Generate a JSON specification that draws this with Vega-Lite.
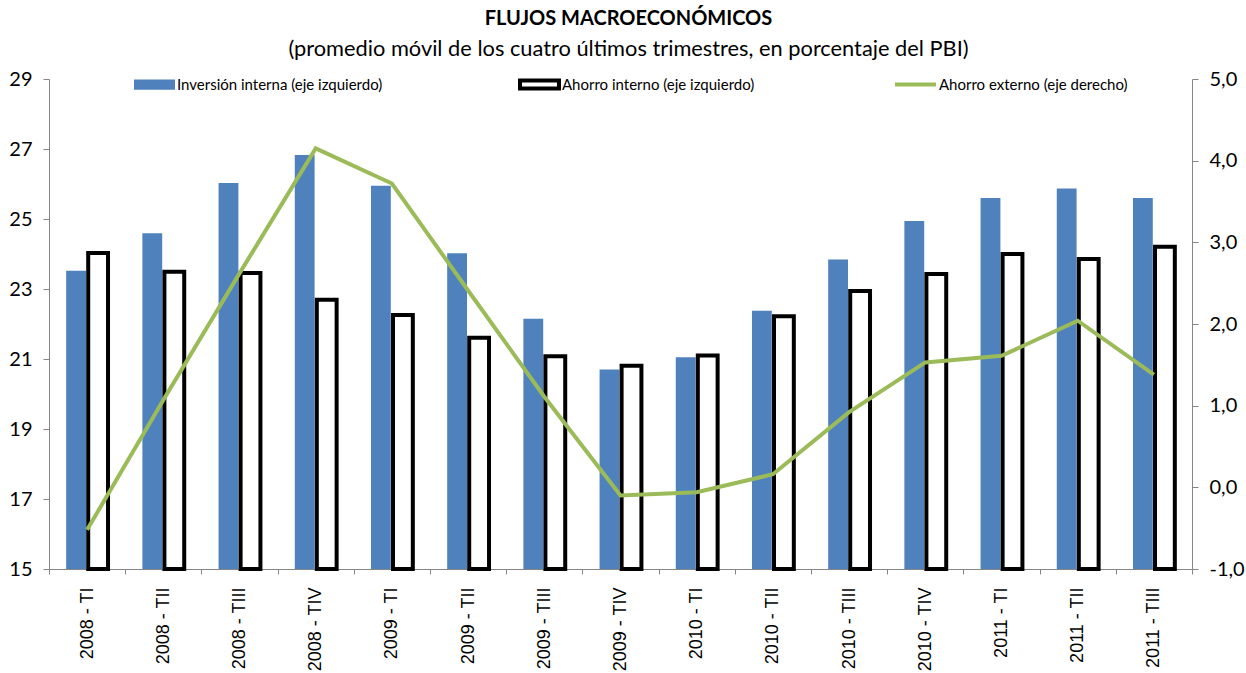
{
  "$schema": "https://vega.github.io/schema/vega-lite/v6.json",
  "autosize": {"type": "none"},
  "width": 1143,
  "height": 490,
  "padding": {"left": 49, "top": 79, "right": 54, "bottom": 104},
  "background": "white",
  "title": {
    "text": "FLUJOS MACROECONÓMICOS",
    "subtitle": "(promedio móvil de los cuatro últimos trimestres, en porcentaje del PBI)",
    "anchor": "middle",
    "font": "Lato",
    "fontSize": 20,
    "fontWeight": "bold",
    "color": "black",
    "subtitleFont": "Lato",
    "subtitleFontSize": 21.8,
    "subtitleColor": "black",
    "subtitlePadding": 10,
    "offset": 1,
    "dx": 8
  },
  "data": {
    "values": [
      {"trimestre": "2008 - TI", "serie": "Inversión interna (eje izquierdo)", "valor": 23.52},
      {"trimestre": "2008 - TII", "serie": "Inversión interna (eje izquierdo)", "valor": 24.59},
      {"trimestre": "2008 - TIII", "serie": "Inversión interna (eje izquierdo)", "valor": 26.03},
      {"trimestre": "2008 - TIV", "serie": "Inversión interna (eje izquierdo)", "valor": 26.83},
      {"trimestre": "2009 - TI", "serie": "Inversión interna (eje izquierdo)", "valor": 25.95},
      {"trimestre": "2009 - TII", "serie": "Inversión interna (eje izquierdo)", "valor": 24.02},
      {"trimestre": "2009 - TIII", "serie": "Inversión interna (eje izquierdo)", "valor": 22.15},
      {"trimestre": "2009 - TIV", "serie": "Inversión interna (eje izquierdo)", "valor": 20.70},
      {"trimestre": "2010 - TI", "serie": "Inversión interna (eje izquierdo)", "valor": 21.05},
      {"trimestre": "2010 - TII", "serie": "Inversión interna (eje izquierdo)", "valor": 22.38},
      {"trimestre": "2010 - TIII", "serie": "Inversión interna (eje izquierdo)", "valor": 23.84},
      {"trimestre": "2010 - TIV", "serie": "Inversión interna (eje izquierdo)", "valor": 24.94},
      {"trimestre": "2011 - TI", "serie": "Inversión interna (eje izquierdo)", "valor": 25.60},
      {"trimestre": "2011 - TII", "serie": "Inversión interna (eje izquierdo)", "valor": 25.87},
      {"trimestre": "2011 - TIII", "serie": "Inversión interna (eje izquierdo)", "valor": 25.60},
      {"trimestre": "2008 - TI", "serie": "Ahorro interno (eje izquierdo)", "valor": 24.03},
      {"trimestre": "2008 - TII", "serie": "Ahorro interno (eje izquierdo)", "valor": 23.49},
      {"trimestre": "2008 - TIII", "serie": "Ahorro interno (eje izquierdo)", "valor": 23.46},
      {"trimestre": "2008 - TIV", "serie": "Ahorro interno (eje izquierdo)", "valor": 22.69},
      {"trimestre": "2009 - TI", "serie": "Ahorro interno (eje izquierdo)", "valor": 22.26},
      {"trimestre": "2009 - TII", "serie": "Ahorro interno (eje izquierdo)", "valor": 21.61},
      {"trimestre": "2009 - TIII", "serie": "Ahorro interno (eje izquierdo)", "valor": 21.08},
      {"trimestre": "2009 - TIV", "serie": "Ahorro interno (eje izquierdo)", "valor": 20.81},
      {"trimestre": "2010 - TI", "serie": "Ahorro interno (eje izquierdo)", "valor": 21.10},
      {"trimestre": "2010 - TII", "serie": "Ahorro interno (eje izquierdo)", "valor": 22.22},
      {"trimestre": "2010 - TIII", "serie": "Ahorro interno (eje izquierdo)", "valor": 22.94},
      {"trimestre": "2010 - TIV", "serie": "Ahorro interno (eje izquierdo)", "valor": 23.43},
      {"trimestre": "2011 - TI", "serie": "Ahorro interno (eje izquierdo)", "valor": 24.00},
      {"trimestre": "2011 - TII", "serie": "Ahorro interno (eje izquierdo)", "valor": 23.86},
      {"trimestre": "2011 - TIII", "serie": "Ahorro interno (eje izquierdo)", "valor": 24.21},
      {"trimestre": "2008 - TI", "serie": "Ahorro externo (eje derecho)", "valor": -0.52},
      {"trimestre": "2008 - TII", "serie": "Ahorro externo (eje derecho)", "valor": 1.07},
      {"trimestre": "2008 - TIII", "serie": "Ahorro externo (eje derecho)", "valor": 2.62},
      {"trimestre": "2008 - TIV", "serie": "Ahorro externo (eje derecho)", "valor": 4.15},
      {"trimestre": "2009 - TI", "serie": "Ahorro externo (eje derecho)", "valor": 3.72},
      {"trimestre": "2009 - TII", "serie": "Ahorro externo (eje derecho)", "valor": 2.41},
      {"trimestre": "2009 - TIII", "serie": "Ahorro externo (eje derecho)", "valor": 1.11},
      {"trimestre": "2009 - TIV", "serie": "Ahorro externo (eje derecho)", "valor": -0.10},
      {"trimestre": "2010 - TI", "serie": "Ahorro externo (eje derecho)", "valor": -0.06},
      {"trimestre": "2010 - TII", "serie": "Ahorro externo (eje derecho)", "valor": 0.16},
      {"trimestre": "2010 - TIII", "serie": "Ahorro externo (eje derecho)", "valor": 0.92},
      {"trimestre": "2010 - TIV", "serie": "Ahorro externo (eje derecho)", "valor": 1.53},
      {"trimestre": "2011 - TI", "serie": "Ahorro externo (eje derecho)", "valor": 1.61},
      {"trimestre": "2011 - TII", "serie": "Ahorro externo (eje derecho)", "valor": 2.04},
      {"trimestre": "2011 - TIII", "serie": "Ahorro externo (eje derecho)", "valor": 1.38}
    ]
  },
  "config": {
    "view": {"stroke": null},
    "axis": {"domainColor": "#868686", "tickColor": "#868686", "labelColor": "black", "grid": false, "domainWidth": 1, "tickWidth": 1},
    "legend": {"labelFont": "Lato", "labelFontSize": 15, "labelColor": "black", "labelLimit": 400, "padding": 0, "symbolSize": 1681, "title": null}
  },
  "encoding": {
    "x": {
      "field": "trimestre",
      "type": "nominal",
      "sort": null,
      "scale": {"paddingInner": 0, "paddingOuter": 0},
      "axis": {
        "title": null,
        "labelAngle": -90,
        "labelAlign": "right",
        "labelBaseline": "middle",
        "labelFont": "Liberation Sans",
        "labelFontSize": 18,
        "tickBand": "extent",
        "tickSize": 5,
        "labelPadding": 13
      }
    }
  },
  "layer": [
    {
      "encoding": {
        "xOffset": {
          "field": "serie",
          "type": "nominal",
          "scale": {"domain": ["Inversión interna (eje izquierdo)", "Ahorro interno (eje izquierdo)"], "paddingInner": 0.1, "paddingOuter": 0.78}
        },
        "y": {
          "field": "valor",
          "type": "quantitative",
          "scale": {"domain": [15, 29], "zero": false, "nice": false},
          "axis": {
            "title": null,
            "values": [15, 17, 19, 21, 23, 25, 27, 29],
            "labelFont": "Lato",
            "labelFontSize": 20,
            "tickSize": 6,
            "labelPadding": 11
          }
        },
        "y2": {"datum": 15}
      },
      "layer": [
        {
          "transform": [{"filter": "datum.serie === 'Inversión interna (eje izquierdo)'"}],
          "mark": {"type": "bar"},
          "encoding": {
            "fill": {
              "field": "serie",
              "type": "nominal",
              "scale": {"domain": ["Inversión interna (eje izquierdo)"], "range": ["#4F81BD"]},
              "legend": {
                "orient": "none",
                "legendX": 85,
                "legendY": -15,
                "symbolType": "M-1,-0.25H1V0.25H-1Z",
                "symbolStrokeWidth": 0,
                "labelOffset": 2
              }
            }
          }
        },
        {
          "transform": [{"filter": "datum.serie === 'Ahorro interno (eje izquierdo)'"}],
          "mark": {"type": "bar", "fill": "#FFFFFF", "strokeWidth": 4},
          "encoding": {
            "stroke": {
              "field": "serie",
              "type": "nominal",
              "scale": {"domain": ["Ahorro interno (eje izquierdo)"], "range": ["#000000"]},
              "legend": {
                "orient": "none",
                "legendX": 468,
                "legendY": -17,
                "symbolType": "M-0.95,-0.2H0.95V0.2H-0.95Z",
                "symbolFillColor": "#FFFFFF",
                "symbolStrokeWidth": 4,
                "labelOffset": 0
              }
            }
          }
        }
      ]
    },
    {
      "transform": [{"filter": "datum.serie === 'Ahorro externo (eje derecho)'"}],
      "mark": {"type": "line", "strokeWidth": 4, "strokeJoin": "miter"},
      "encoding": {
        "y": {
          "field": "valor",
          "type": "quantitative",
          "scale": {"domain": [-1, 5], "zero": false, "nice": false},
          "axis": {
            "orient": "right",
            "title": null,
            "values": [-1, 0, 1, 2, 3, 4, 5],
            "labelExpr": "replace(replace(format(datum.value, '.1f'), '.', ','), '−', '-')",
            "labelFont": "Lato",
            "labelFontSize": 20,
            "tickSize": 6,
            "labelPadding": 11
          }
        },
        "color": {
          "field": "serie",
          "type": "nominal",
          "scale": {"domain": ["Ahorro externo (eje derecho)"], "range": ["#9BBB59"]},
          "legend": {
            "orient": "none",
            "legendX": 844,
            "legendY": -17,
            "symbolType": "stroke",
            "symbolStrokeWidth": 4,
            "labelOffset": 1
          }
        }
      }
    }
  ],
  "resolve": {"scale": {"y": "independent"}}
}
